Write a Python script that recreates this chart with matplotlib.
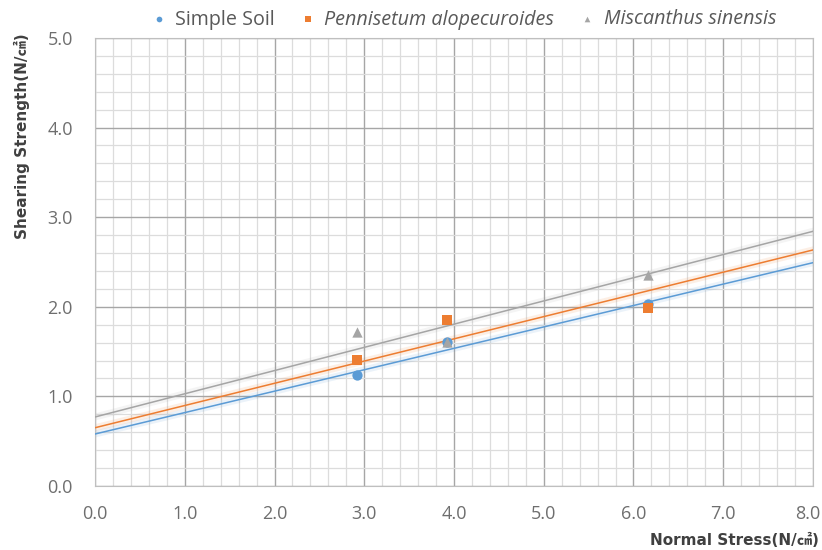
import matplotlib
matplotlib.use("Agg")
import matplotlib.pyplot as plt
import numpy as np
from matplotlib.ticker import MultipleLocator

plt.rcParams['font.family'] = ['Open Sans', 'Noto Sans CJK KR', 'DejaVu Sans']

# measured points
normal_stress = [2.92, 3.92, 6.16]
simple_soil = [1.24, 1.61, 2.03]
pennisetum = [1.41, 1.85, 1.99]
miscanthus = [1.72, 1.61, 2.36]

# trendlines: (intercept, slope)
fit_simple = [0.58, 0.239]
fit_pennisetum = [0.65, 0.248]
fit_miscanthus = [0.77, 0.259]

names = ['Simple Soil', 'Pennisetum alopecuroides', 'Miscanthus sinensis']
colors = ['#5B9BD5', '#ED7D31', '#A5A5A5']
markers = ['o', 's', '^']
x_max = 8.0

fig = plt.figure(figsize=(8.22, 5.5), dpi=100)
ax = fig.add_axes([0.1156, 0.1164, 0.8734, 0.8146])

xs = np.array([0.0, x_max])
series = [simple_soil, pennisetum, miscanthus]
fits = [fit_simple, fit_pennisetum, fit_miscanthus]
handles = []
for ys, fit, c, m, name in zip(series, fits, colors, markers, names):
    line_y = fit[0] + fit[1] * xs
    ax.plot(xs, line_y, color=c, lw=5, alpha=0.12, zorder=2)
    ax.plot(xs, line_y, color=c, lw=1.1, zorder=3)
    h = ax.scatter(normal_stress, ys, marker=m, s=55, color=c, zorder=4,
                   label=name, linewidths=0)
    handles.append(h)

ax.set_xlim(0, x_max)
ax.set_ylim(0, 5)
ax.xaxis.set_major_locator(MultipleLocator(1))
ax.yaxis.set_major_locator(MultipleLocator(1))
ax.xaxis.set_minor_locator(MultipleLocator(0.2))
ax.yaxis.set_minor_locator(MultipleLocator(0.2))
# the last x label is drawn separately, nudged inside the figure edge
ax.xaxis.set_major_formatter(plt.FuncFormatter(lambda v, p: '' if v >= x_max else f'{v:.1f}'))
ax.yaxis.set_major_formatter(plt.FuncFormatter(lambda v, p: f'{v:.1f}'))
ax.grid(which='major', color='#A6A6A6', lw=1.0, zorder=0)
ax.grid(which='minor', color='#DCDCDC', lw=0.9, zorder=0)
ax.set_axisbelow(True)
for s in ax.spines.values():
    s.set_color('#BFBFBF')
ax.tick_params(which='both', length=0, colors='#6E6E6E', labelsize=13)
ax.tick_params(axis='x', pad=14)
ax.tick_params(axis='y', pad=16)
ax.annotate(f'{x_max:.1f}', xy=(x_max, 0), xycoords='data', xytext=(-4, -14),
            textcoords='offset points', ha='center', va='top', fontsize=13,
            color='#6E6E6E', annotation_clip=False)

lab_font = ['DejaVu Sans', 'Noto Sans CJK KR']
fig.text(0.996, 0.004, 'Normal Stress(N/㎠)', ha='right', va='bottom',
         fontsize=11, fontweight='bold', color='#404040', family=lab_font)
fig.text(0.027, 0.94, 'Shearing Strength(N/㎠)', ha='center', va='top',
         rotation=90, fontsize=11, fontweight='bold', color='#404040',
         family=lab_font)

leg = fig.legend(handles=handles, loc='upper center', bbox_to_anchor=(0.5625, 1.015),
                 ncol=3, frameon=False, fontsize=14.2, handlelength=1.0,
                 handletextpad=0.35, columnspacing=1.15, markerscale=0.55)
for t in leg.get_texts()[1:]:
    t.set_fontstyle('italic')
for t in leg.get_texts():
    t.set_color('#595959')

fig.savefig('out.png', dpi=100)
